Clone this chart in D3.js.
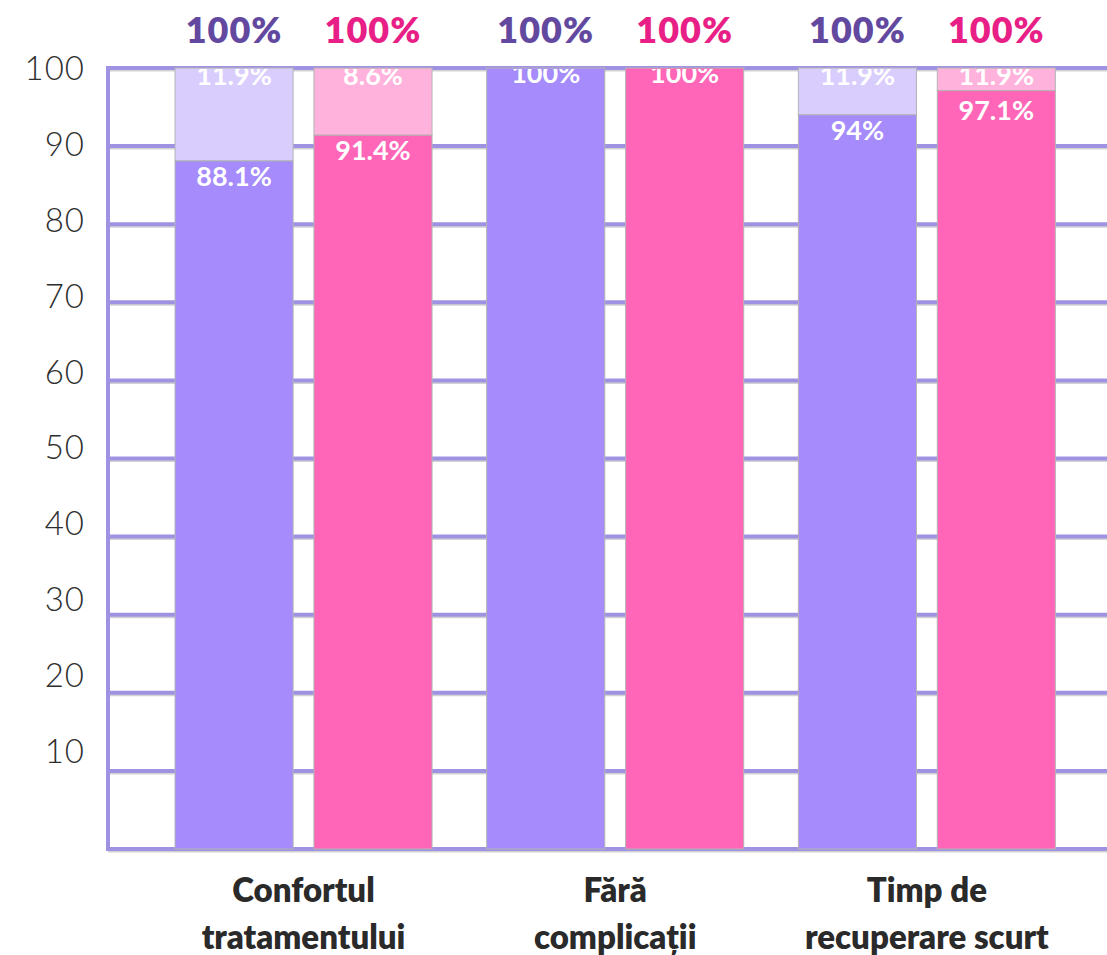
<!DOCTYPE html>
<html>
<head>
<meta charset="utf-8">
<script src="https://cdn.jsdelivr.net/npm/d3@7"></script>
<style>
html,body{margin:0;padding:0;background:#fff;}
svg{display:block;}
text{font-family:Lato,"Open Sans",sans-serif;}
</style>
</head>
<body>
<svg id="chart" width="1107" height="955"></svg>
<script>
// ---- data ----
const categories = [["Confortul","tratamentului"],["Fără","complicații"],["Timp de","recuperare scurt"]];
const series = ["A","B"];
const mainValues = [[88.1, 91.4],[100, 100],[94, 97.1]];
const mainLabels = [["88.1%","91.4%"],["100%","100%"],["94%","97.1%"]];
const restLabels = [["11.9%","8.6%"],["",""],["11.9%","11.9%"]];
const totalLabels = [["100%","100%"],["100%","100%"],["100%","100%"]];
const yTicks = [10,20,30,40,50,60,70,80,90,100];
const gridValues = [0,10,20,30,40,50,60,70,80,90,100];

// ---- style ----
const darkCol = ["#a58bfb","#ff66b7"];
const lightCol = ["#d9cdfd","#ffb2dc"];
const totalCol = ["#62499f","#e81f86"];
const gridCol = "#9f92e2";

const svg = d3.select("#chart");
const W = 1107, plotLeft = 108;

const y = d3.scaleLinear().domain([0,100]).range([849,68]);
const yLab = d3.scaleLinear().domain([10,100]).range([750,67]);
const x = d3.scaleBand().domain(d3.range(categories.length)).range([147.7,1082.7]).paddingInner(0.1754).paddingOuter(0.0877);
const xs = d3.scaleBand().domain(series).range([0, x.bandwidth()]).paddingInner(0.15);

// grid lines
const grid = svg.append("g");
grid.selectAll("line.sh").data(gridValues).join("line")
  .attr("x1", plotLeft).attr("x2", W)
  .attr("y1", d=>y(d)+2.5).attr("y2", d=>y(d)+2.5)
  .attr("stroke","#d2d2d2").attr("stroke-width",2);
grid.selectAll("line.g").data(gridValues).join("line")
  .attr("x1", plotLeft).attr("x2", W)
  .attr("y1", d=>y(d)).attr("y2", d=>y(d))
  .attr("stroke",gridCol).attr("stroke-width",4);
grid.append("line")
  .attr("x1", plotLeft).attr("x2", plotLeft)
  .attr("y1", y(100)-2).attr("y2", y(0)+2)
  .attr("stroke",gridCol).attr("stroke-width",4);

// y tick labels
svg.append("g").selectAll("text").data(yTicks).join("text")
  .attr("x", 85).attr("y", d=>yLab(d))
  .attr("text-anchor","end").attr("dominant-baseline","central")
  .attr("font-size",33).attr("font-weight",300).attr("fill","#2e2e2e")
  .attr("letter-spacing",1)
  .text(d=>d);

// bars
const flat = [];
categories.forEach((c,i)=>series.forEach((s,j)=>flat.push({i,j,s,v:mainValues[i][j]})));
const bars = svg.append("g");
bars.selectAll("rect.rest").data(flat.filter(d=>d.v<100)).join("rect")
  .attr("x", d=>x(d.i)+xs(d.s)).attr("width", xs.bandwidth())
  .attr("y", y(100)).attr("height", d=>y(d.v)-y(100))
  .attr("fill", d=>lightCol[d.j]).attr("stroke","#b4b4b4").attr("stroke-width",1);
bars.selectAll("rect.main").data(flat).join("rect")
  .attr("x", d=>x(d.i)+xs(d.s)).attr("width", xs.bandwidth())
  .attr("y", d=>y(d.v)).attr("height", d=>y(0)-y(d.v))
  .attr("fill", d=>darkCol[d.j]).attr("stroke","#b4b4b4").attr("stroke-width",1);

// labels inside plot
svg.append("clipPath").attr("id","plotclip").append("rect")
  .attr("x",0).attr("y",y(100)+1).attr("width",W).attr("height",y(0)-y(100));
const lab = svg.append("g").attr("clip-path","url(#plotclip)");
const restY = d => y(100)+17;
lab.selectAll("text.main").data(flat).join("text")
  .attr("x", d=>x(d.i)+xs(d.s)+xs.bandwidth()/2)
  .attr("y", d=> d.v>=100 ? y(d.v)+15 : Math.max(y(d.v)+25, restY(d)+35))
  .attr("text-anchor","middle").attr("font-size",27).attr("font-weight",700).attr("fill","#fff")
  .text(d=>mainLabels[d.i][d.j]);
lab.selectAll("text.rest").data(flat.filter(d=>restLabels[d.i][d.j])).join("text")
  .attr("x", d=>x(d.i)+xs(d.s)+xs.bandwidth()/2)
  .attr("y", restY)
  .attr("text-anchor","middle").attr("font-size",27).attr("font-weight",700).attr("fill","#fff")
  .text(d=>restLabels[d.i][d.j]);

// totals above
svg.append("g").selectAll("text").data(flat).join("text")
  .attr("x", d=>x(d.i)+xs(d.s)+xs.bandwidth()/2).attr("y", 43)
  .attr("text-anchor","middle").attr("font-size",36).attr("font-weight",800)
  .attr("letter-spacing",1)
  .attr("fill", d=>totalCol[d.j])
  .text(d=>totalLabels[d.i][d.j]);

// category labels
const cat = svg.append("g").selectAll("text").data(categories).join("text")
  .attr("x",(d,i)=>x(i)+x.bandwidth()/2).attr("y",902)
  .attr("text-anchor","middle").attr("font-size",33).attr("font-weight",800).attr("fill","#2a2a2a");
cat.selectAll("tspan").data(d=>d).join("tspan")
  .attr("x",function(){return this.parentNode.getAttribute("x");})
  .attr("dy",(d,k)=>k===0?0:47)
  .text(d=>d);
</script>
</body>
</html>
